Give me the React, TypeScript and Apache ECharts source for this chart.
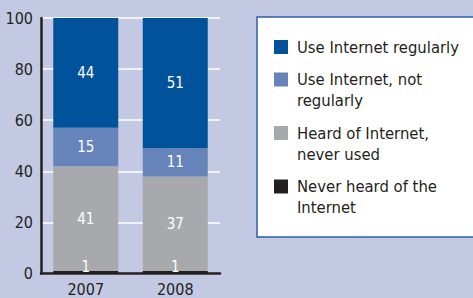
import React, { useEffect, useRef } from "react";
import * as echarts from "echarts";

const years = ["2007", "2008"];
const neverHeard = [1, 1];
const heardNeverUsed = [41, 37];
const useNotRegularly = [15, 11];
const useRegularly = [44, 51];
const yTicks = [0, 20, 40, 60, 80, 100];

const legendLabels = [
  "Use Internet regularly",
  "Use Internet, not\nregularly",
  "Heard of Internet,\nnever used",
  "Never heard of the\nInternet",
];

const FONT = '"Liberation Sans Narrow", "Arial Narrow", "DejaVu Sans Condensed", sans-serif';
const DARK = "#231f20";
const COLORS = {
  regular: "#00529b",
  notRegular: "#6683ba",
  heard: "#a7a9ac",
  never: "#231f20",
};

export default function App() {
  const ref = useRef<HTMLDivElement>(null);
  useEffect(() => {
    if (!ref.current) return;
    const chart = echarts.init(ref.current, null, { renderer: "svg" });
    const label = {
      show: true,
      position: "inside",
      color: "#ffffff",
      fontFamily: FONT,
      fontSize: 15,
    };
    const mk = (name: string, data: number[], color: string, lab: any) => ({
      name,
      type: "bar",
      stack: "total",
      data,
      barWidth: 65,
      itemStyle: { color },
      label: lab,
      emphasis: { disabled: true },
    });
    const legendColors = [COLORS.regular, COLORS.notRegular, COLORS.heard, COLORS.never];
    const legendGraphics: any[] = [
      {
        type: "rect",
        shape: { x: 257, y: 17, width: 240, height: 220 },
        style: { fill: "#ffffff", stroke: "#2c5fa8", lineWidth: 1.5 },
      },
    ];
    let cy = 47;
    legendLabels.forEach((txt, i) => {
      const lines = txt.split("\n").length;
      legendGraphics.push({
        type: "rect",
        shape: { x: 274, y: cy - 7, width: 14, height: 14 },
        style: { fill: legendColors[i] },
      });
      legendGraphics.push({
        type: "text",
        x: 297,
        y: cy - 10.5,
        style: {
          text: txt,
          font: `16.5px ${FONT}`,
          fill: DARK,
          lineHeight: 21,
          verticalAlign: "top",
          align: "left",
        },
      });
      cy += lines * 21 + 11.5;
    });

    chart.setOption({
      animation: false,
      backgroundColor: "#c3c9e2",
      grid: { left: 41, right: 253, top: 18, bottom: 24.5 },
      xAxis: {
        type: "category",
        data: years,
        axisLine: { lineStyle: { color: DARK, width: 2.5 } },
        axisTick: { show: false },
        axisLabel: { color: DARK, fontFamily: FONT, fontSize: 16, margin: 8 },
      },
      yAxis: {
        type: "value",
        min: 0,
        max: 100,
        interval: 20,
        axisLine: { show: true, lineStyle: { color: DARK, width: 2.5 } },
        axisTick: { show: false },
        splitLine: { show: true, lineStyle: { color: "#ffffff", width: 1.5 } },
        axisLabel: {
          color: DARK,
          fontFamily: FONT,
          fontSize: 16,
          margin: 8,
          formatter: (v: number) => (yTicks.includes(v) ? String(v) : ""),
        },
      },
      series: [
        mk("Never heard of the Internet", neverHeard, COLORS.never, {
          ...label,
          position: "insideBottom",
          distance: 0,
          offset: [0, 1],
        }),
        mk("Heard of Internet, never used", heardNeverUsed, COLORS.heard, label),
        mk("Use Internet, not regularly", useNotRegularly, COLORS.notRegular, label),
        mk("Use Internet regularly", useRegularly, COLORS.regular, label),
      ],
      graphic: legendGraphics,
    });
    return () => chart.dispose();
  }, []);
  return (
    <div
      ref={ref}
      style={{ position: "fixed", left: 0, top: 0, width: 473, height: 298 }}
    />
  );
}
